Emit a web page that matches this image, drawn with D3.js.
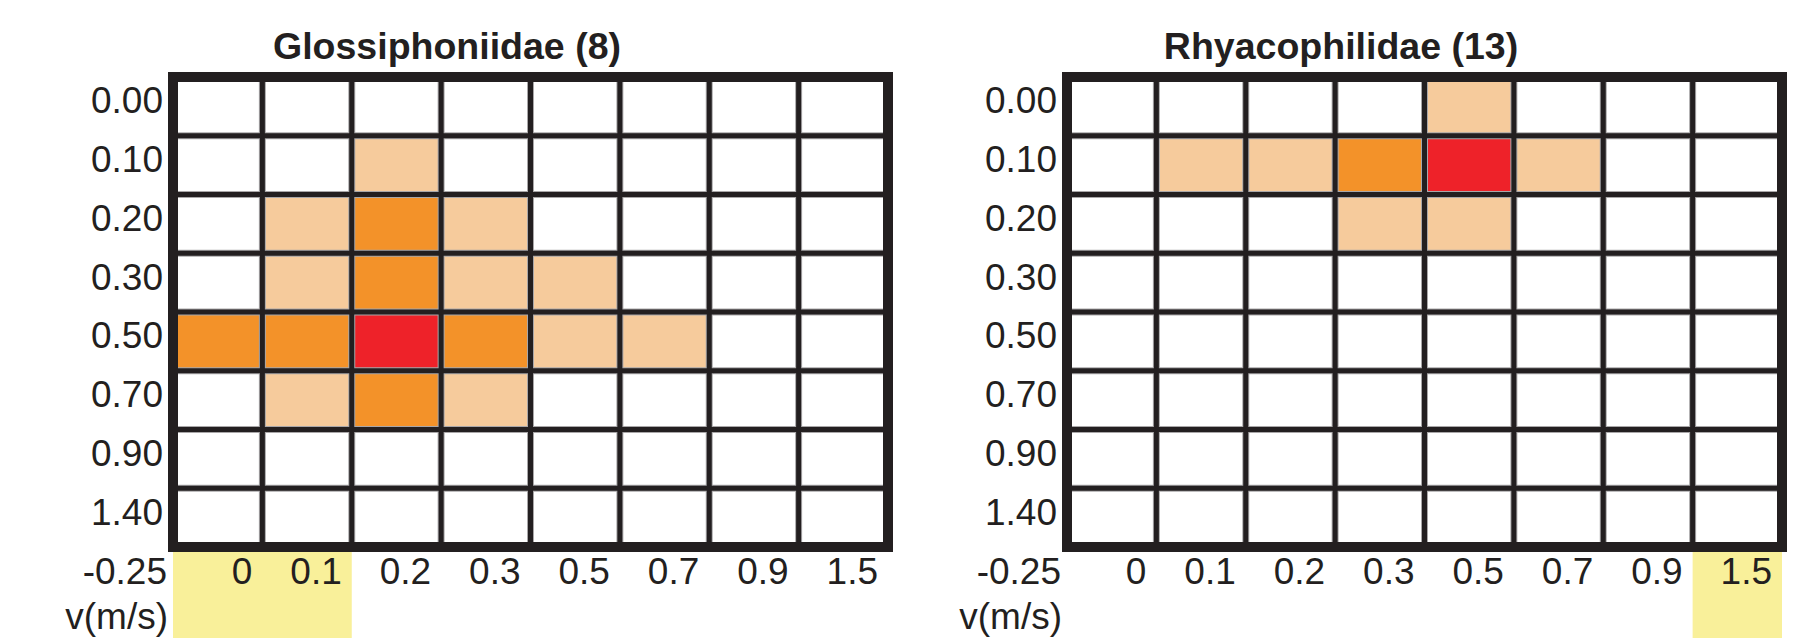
<!DOCTYPE html>
<html>
<head>
<meta charset="utf-8">
<script src="https://cdn.jsdelivr.net/npm/d3@7"></script>
<style>
  html, body { margin: 0; padding: 0; background: #fff; }
  svg { display: block; }
  text { font-family: "Liberation Sans", Arial, Helvetica, sans-serif; fill: #231f20; }
</style>
</head>
<body>
<svg id="chart"></svg>
<script>
// depth rows (m) and velocity bin edges (m/s)
const depths = ["0.00", "0.10", "0.20", "0.30", "0.50", "0.70", "0.90", "1.40"];
const velocityEdges = ["-0.25", "0", "0.1", "0.2", "0.3", "0.5", "0.7", "0.9", "1.5"];
const axisTitle = "v(m/s)";

// preference level per cell: 0 none, 1 low, 2 medium, 3 optimum
const glossiphoniidae = [
    [0, 0, 0, 0, 0, 0, 0, 0],
    [0, 0, 1, 0, 0, 0, 0, 0],
    [0, 1, 2, 1, 0, 0, 0, 0],
    [0, 1, 2, 1, 1, 0, 0, 0],
    [2, 2, 3, 2, 1, 1, 0, 0],
    [0, 1, 2, 1, 0, 0, 0, 0],
    [0, 0, 0, 0, 0, 0, 0, 0],
    [0, 0, 0, 0, 0, 0, 0, 0],
];
const rhyacophilidae = [
    [0, 0, 0, 0, 1, 0, 0, 0],
    [0, 1, 1, 2, 3, 1, 0, 0],
    [0, 0, 0, 1, 1, 0, 0, 0],
    [0, 0, 0, 0, 0, 0, 0, 0],
    [0, 0, 0, 0, 0, 0, 0, 0],
    [0, 0, 0, 0, 0, 0, 0, 0],
    [0, 0, 0, 0, 0, 0, 0, 0],
    [0, 0, 0, 0, 0, 0, 0, 0],
];
const panelTitles = ["Glossiphoniidae (8)", "Rhyacophilidae (13)"];
const highlightedBins = [[0, 1], [7]];
const levelColors = ["#ffffff", "#f6cb9c", "#f39229", "#ee2229"];

const W = 1807, H = 638;
const svg = d3.select("#chart").attr("width", W).attr("height", H);

const gridW = 715, gridH = 470, gridTop = 77;
const panels = [
    { x0: 173, title: panelTitles[0], grid: glossiphoniidae, hi: highlightedBins[0] },
    { x0: 1067, title: panelTitles[1], grid: rhyacophilidae, hi: highlightedBins[1] },
];

const bins = d3.range(velocityEdges.length - 1);
const color = d3.scaleOrdinal().domain([0, 1, 2, 3]).range(levelColors);

panels.forEach(p => {
    const g = svg.append("g").attr("transform", `translate(${p.x0},${gridTop})`);

    const x = d3.scaleBand().domain(bins).range([0, gridW]);
    const y = d3.scaleBand().domain(depths).range([0, gridH]);
    const edge = d3.scalePoint().domain(velocityEdges).range([0, gridW]);

    // yellow highlight under selected velocity bins
    const hx0 = x(d3.min(p.hi)), hx1 = x(d3.max(p.hi)) + x.bandwidth();
    g.append("rect")
        .attr("x", hx0).attr("y", gridH)
        .attr("width", hx1 - hx0).attr("height", H - gridTop - gridH)
        .attr("fill", "#f9f09a");

    // cells
    const cells = p.grid.flatMap((row, r) => row.map((v, c) => ({ r, c, v })));
    g.selectAll("rect.cell")
        .data(cells)
        .enter()
        .append("rect")
        .attr("class", "cell")
        .attr("x", d => x(d.c))
        .attr("y", d => y(depths[d.r]))
        .attr("width", x.bandwidth())
        .attr("height", y.bandwidth())
        .attr("fill", d => color(d.v));

    // inner grid lines (grey halo then dark line)
    const vLines = bins.slice(1).map(b => x(b));
    const hLines = depths.slice(1).map(d => y(d));
    [["#a9a7a8", 7], ["#231f20", 5]].forEach(([stroke, sw]) => {
        g.selectAll(null).data(vLines).enter().append("line")
            .attr("x1", d => d).attr("x2", d => d)
            .attr("y1", 0).attr("y2", gridH)
            .attr("stroke", stroke).attr("stroke-width", sw);
        g.selectAll(null).data(hLines).enter().append("line")
            .attr("x1", 0).attr("x2", gridW)
            .attr("y1", d => d).attr("y2", d => d)
            .attr("stroke", stroke).attr("stroke-width", sw);
    });

    // outer frame
    g.append("rect")
        .attr("width", gridW).attr("height", gridH)
        .attr("fill", "none").attr("stroke", "#231f20").attr("stroke-width", 10);

    // depth labels
    g.selectAll("text.ylab")
        .data(depths)
        .enter()
        .append("text")
        .attr("class", "ylab")
        .attr("x", -10)
        .attr("y", d => y(d) + y.bandwidth() / 2 + 7)
        .attr("text-anchor", "end")
        .attr("font-size", 37)
        .text(d => d);

    // velocity edge labels
    g.selectAll("text.xlab")
        .data(velocityEdges)
        .enter()
        .append("text")
        .attr("class", "xlab")
        .attr("x", (d, i) => edge(d) - (i === 0 ? 6 : 10))
        .attr("y", gridH + 37)
        .attr("text-anchor", "end")
        .attr("font-size", 37)
        .text(d => d);

    g.append("text")
        .attr("x", -5)
        .attr("y", gridH + 82)
        .attr("text-anchor", "end")
        .attr("font-size", 37)
        .text(axisTitle);

    // panel title
    g.append("text")
        .attr("x", 274)
        .attr("y", 59 - gridTop)
        .attr("text-anchor", "middle")
        .attr("font-size", 37.5)
        .attr("font-weight", "bold")
        .text(p.title);
});
</script>
</body>
</html>
